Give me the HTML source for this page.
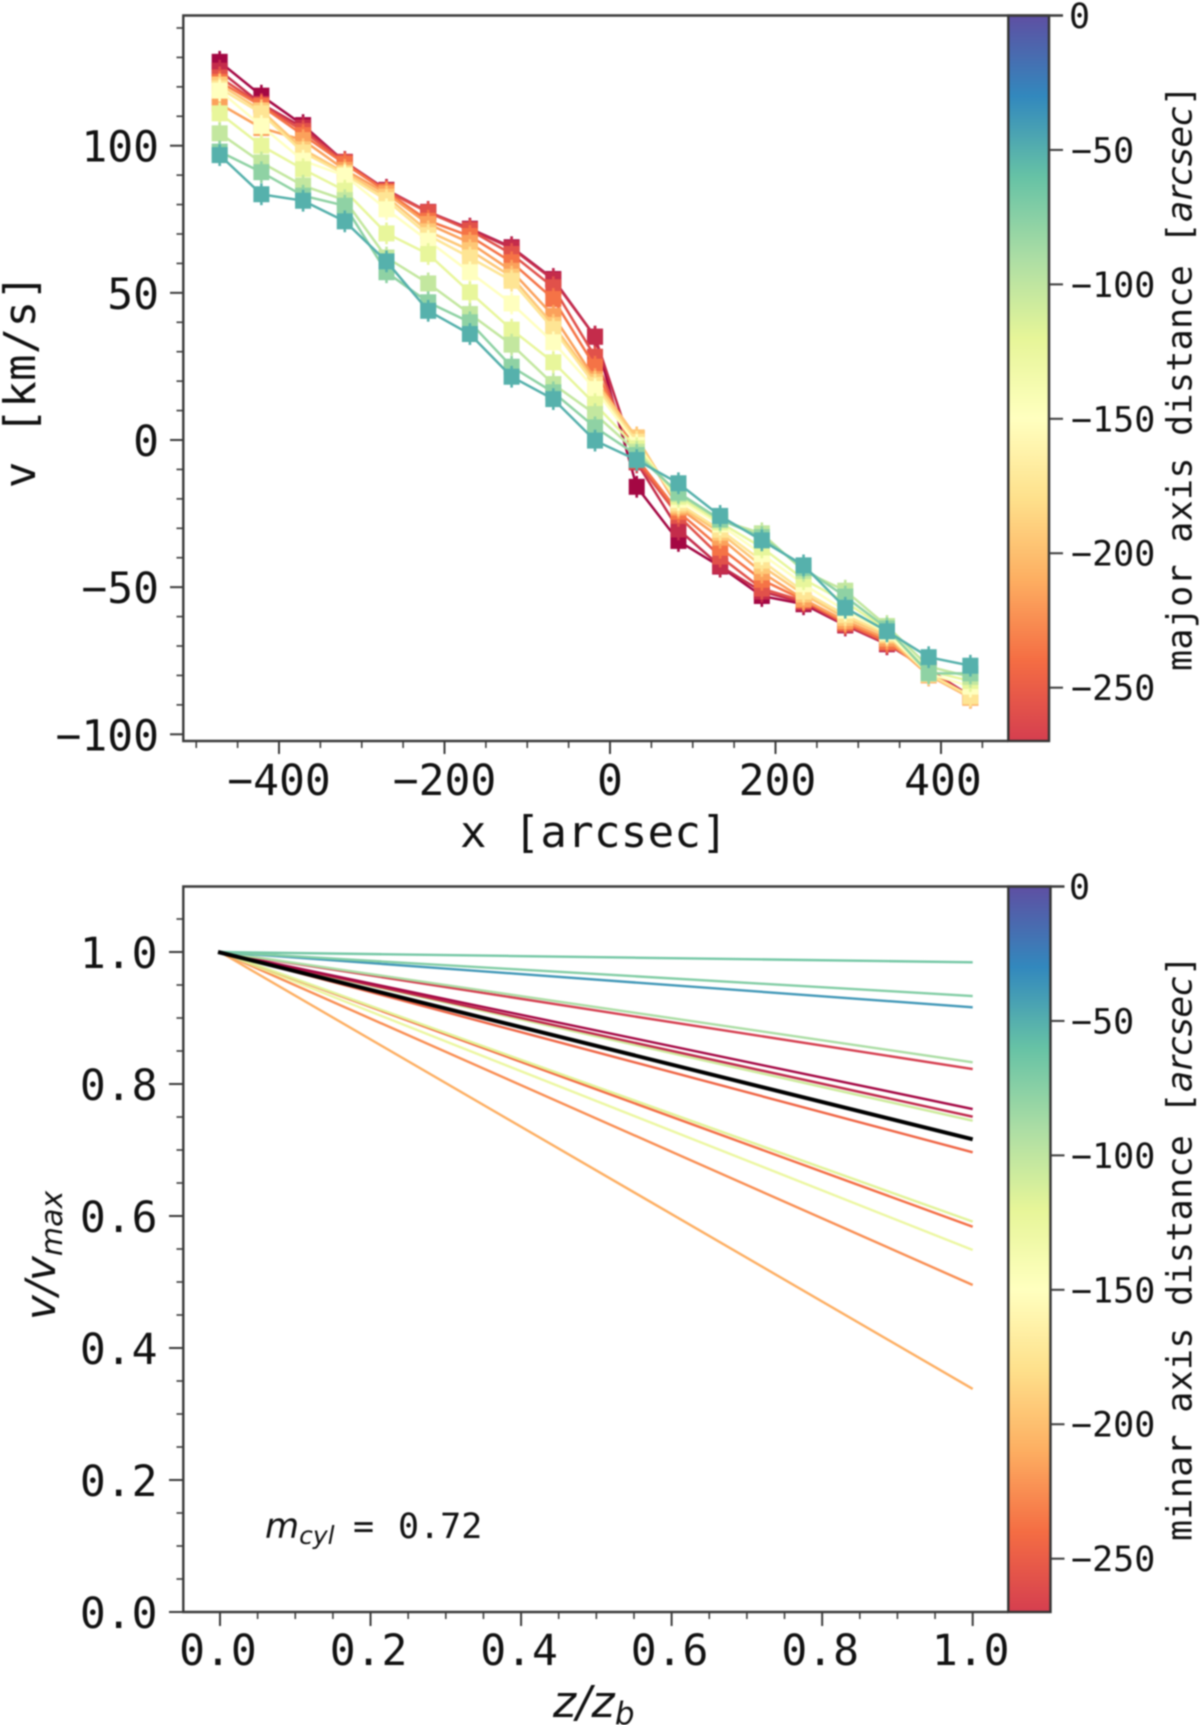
<!DOCTYPE html>
<html lang="en">
<head>
<meta charset="utf-8">
<title>Velocity profiles</title>
<style>
html,body{margin:0;padding:0;background:#fff;width:1200px;height:1725px;overflow:hidden}
svg{display:block;filter:blur(.8px)}
text{fill:#111;font-family:"DejaVu Sans Mono","Liberation Mono",monospace}
.tick{font-size:43px}
.cbt{font-size:35px}
.lab{font-size:44px;letter-spacing:.3px}
.cbl{font-size:35px;letter-spacing:.3px}
.it{font-family:"DejaVu Sans","Liberation Sans",sans-serif;font-style:italic}
</style>
</head>
<body>
<svg id="fig" xmlns="http://www.w3.org/2000/svg" width="1200" height="1725" viewBox="0 0 1200 1725">
  <defs>
    <linearGradient id="cbGrad" x1="0" y1="0" x2="0" y2="1"></linearGradient>
  </defs>
  <g id="top-marks"></g>
  <g id="bottom-marks"></g>
  <g id="axes"></g>

  <text class="lab" x="594" y="847" text-anchor="middle">x [arcsec]</text>
  <text class="lab" transform="translate(35 381) rotate(-90)" text-anchor="middle">v [km/s]</text>
  <text class="cbl" transform="translate(1191.5 671) rotate(-90)">major axis distance [<tspan class="it">arcsec</tspan>]</text>

  <text class="lab it" x="553" y="1717" font-size="44">z/z<tspan font-size="31" dy="7">b</tspan></text>
  <text class="it" transform="translate(55 1320) rotate(-90)" font-size="42">v/v<tspan font-size="30" dy="7">max</tspan></text>
  <text class="cbl" transform="translate(1191.5 1541) rotate(-90)">minar axis distance [<tspan class="it">arcsec</tspan>]</text>

  <g>
    <text class="it" x="265" y="1538" font-size="35">m<tspan font-size="25" dy="6">cyl</tspan></text>
    <text class="cbt" x="353" y="1538">=</text>
    <text class="cbt" x="398" y="1538">0.72</text>
  </g>
</svg>

<script>
// ---- top chart data ----
const topX = [-471.7,-421.3,-370.9,-320.5,-270.1,-219.7,-169.3,-118.9,-68.5,-18.1,32.3,82.7,133.1,183.5,233.9,284.3,334.7,385.1,435.5];
const topDistances = [-297,-279,-258,-237,-216,-195,-175,-150,-122,-102,-78,-51];
const vDark = [128.5,117,107,94.5,85,77.5,71.8,65.5,54.7,35.1,-15.9,-34.3,-43,-53,-55.8,-63,-69.4,-78,-87];
const vCrimson = [125.5,114.2,106.2,94.5,84.8,77.5,71.6,65.2,54.4,35.1,-7.6,-30.4,-42.8,-51.5,-55.3,-62.8,-69.2,-78,-87];
const vRed = [123.2,113.9,105,94.3,84.6,77.3,71.3,63.2,51.9,28.3,-7.3,-25.8,-39.6,-50.5,-54.7,-62.5,-69,-78.5,-87.4];
const vOrangeRed = [121.7,113.5,103.6,93.8,84.4,74.5,69.3,60.4,47.9,24.9,-6.2,-24.4,-36.6,-47.5,-54.4,-62,-68.5,-79,-87.5];
const vOrange = [114.2,106,101.9,91.8,83.8,73.4,67,57.5,42.2,20.7,0.6,-23,-33.2,-45,-54.1,-61.5,-67.5,-80,-87.6];
const vLightOrange = [120.8,112,98.8,90.8,82.7,70.9,64.5,55.5,39.1,19.8,0.9,-22.3,-31.5,-42.8,-52.5,-60.5,-66.5,-79.8,-87.4];
const vGold = [119.5,111,97.7,90.3,81.5,69.6,62,54.1,37.7,18.7,-0.6,-21.5,-30.5,-41,-51.5,-59.5,-66,-79.5,-87];
const vPale = [118.7,106.7,94.9,89.8,78.4,67.7,57,46.4,33.2,17.3,-1.7,-20.4,-28.7,-38.8,-49,-58,-65.5,-79.3,-83.8];
const vYellowGreen = [111,100,92,84.7,70.2,63.2,50.2,37.5,26.4,12.2,-2.8,-19.3,-28,-36.5,-47.3,-55,-64.5,-78.5,-81.9];
const vLightGreen = [104.2,94.3,86.4,81.5,62,53.2,42.8,32.4,19,8.8,-4,-18.4,-27.3,-31.7,-44.5,-51.2,-63.2,-77,-80.5];
const vGreen = [98,91,83,79.6,57,46.8,40,24.9,16.2,4.3,-5.1,-17.9,-27,-33,-43.5,-53.2,-64,-79.3,-79.3];
const vTeal = [96.8,83.5,81.3,74.3,60.7,43.9,36,21.5,13.9,-0.2,-6.8,-14.7,-25.8,-34.1,-42.6,-57,-65,-73.8,-76.7];
const topSeries = [vDark,vCrimson,vRed,vOrangeRed,vOrange,vLightOrange,vGold,vPale,vYellowGreen,vLightGreen,vGreen,vTeal];
const vError = 3.7;

// ---- bottom chart data ----
const zNorm = [0,1];
const bottomDistances = [-210,-225,-127,-240,-118,-245,-108,-282,-297,-270,-90,-38,-72,-66];
const bottomEnds = [0.338,0.4955,0.5485,0.5838,0.5914,0.6965,0.7444,0.7505,0.7621,0.8227,0.8329,0.9162,0.9333,0.9844];
const meanEnd = 0.7162;

// ---- tick labels ----
const topXMajor = [-400,-200,0,200,400];
const topXMinor = [-500,-450,-350,-300,-250,-150,-100,-50,50,100,150,250,300,350,450];
const topYMajor = [100,50,0,-50,-100];
const topYMinor = [140,130,120,110,90,80,70,60,40,30,20,10,-10,-20,-30,-40,-60,-70,-80,-90];
const bottomMajor = [0,0.2,0.4,0.6,0.8,1];
const bottomXMinor = [0.05,0.1,0.15,0.25,0.3,0.35,0.45,0.5,0.55,0.65,0.7,0.75,0.85,0.9,0.95];
const bottomYMinor = [1.05,0.95,0.9,0.85,0.75,0.7,0.65,0.55,0.5,0.45,0.35,0.3,0.25,0.15,0.1,0.05];
const colorbarTicks = [0,-50,-100,-150,-200,-250];
const colorbarMin = -270;

const NS = 'http://www.w3.org/2000/svg';
const spectralStops = ['#9e0142','#d53e4f','#f46d43','#fdae61','#fee08b','#ffffbf','#e6f598','#abdda4','#66c2a5','#3288bd','#5e4fa2'];
function hex(c){return [1,3,5].map(function(i){return parseInt(c.substr(i,2),16);});}
function spectral(d){
  var t=Math.max(0,Math.min(1,1+d/300))*10;
  var i=Math.min(9,Math.floor(t)),f=t-i;
  var a=hex(spectralStops[i]),b=hex(spectralStops[i+1]);
  return 'rgb('+a.map(function(v,k){return Math.round(v+(b[k]-v)*f);}).join(',')+')';
}
function make(parent,tag,attrs,txt){
  var e=document.createElementNS(NS,tag);
  for(var k in attrs){e.setAttribute(k,attrs[k]);}
  if(txt!==undefined){e.textContent=txt;}
  parent.appendChild(e);
  return e;
}
function fmtSigned(v){return (v<0?'\u2212':'')+Math.abs(v);}

// axis functions
const topXS = function(v){return 610+v*0.8275;};
const topYS = function(v){return 440-v*2.943;};
const botXS = function(v){return 220+v*752.7;};
const botYS = function(v){return 1612-v*660;};
const cb1 = function(v){return 15.5-v*2.6887;};
const cb2 = function(v){return 886.5-v*2.6887;};

// gradient
const grad=document.getElementById('cbGrad');
for(let d=0;d>=colorbarMin;d-=10){
  make(grad,'stop',{offset:(d/colorbarMin),'stop-color':spectral(d)});
}

// top series
const topG=document.getElementById('top-marks');
topSeries.forEach(function(vals,s){
  const col=spectral(topDistances[s]);
  const g=make(topG,'g',{});
  
  
  const pts=vals.map(function(v,i){return topXS(topX[i]).toFixed(1)+','+topYS(v).toFixed(1);}).join(' ');
  const line=make(g,'polyline',{points:pts,fill:'none',stroke:col,'stroke-width':2.5});
  
  
  vals.forEach(function(v,i){
    const cx=topXS(topX[i]);
    const err=make(g,'line',{x1:cx,x2:cx,y1:topYS(v+vError),y2:topYS(v-vError),stroke:col,'stroke-width':2.6});
    
    
    const pt=make(g,'rect',{x:cx-8,y:topYS(v)-8,width:16,height:16,fill:col});
    
    
  });
});

// bottom series
const botG=document.getElementById('bottom-marks');
bottomEnds.forEach(function(end,s){
  const ln=make(botG,'line',{x1:botXS(zNorm[0]),y1:botYS(1),x2:botXS(zNorm[1]),y2:botYS(end),stroke:spectral(bottomDistances[s]),'stroke-width':2.4});
  
  
});
const meanLine=make(botG,'line',{x1:botXS(zNorm[0])-2,y1:botYS(1),x2:botXS(zNorm[1]),y2:botYS(meanEnd),stroke:'#000','stroke-width':4});



// axes
const ax=document.getElementById('axes');
const AX='#3a3a3a';
function tickLine(x1,y1,x2,y2,w){
  const t=make(ax,'line',{x1:x1,y1:y1,x2:x2,y2:y2,stroke:AX,'stroke-width':w});
  
  
}
function panel(L,T,R,B,cbR,cbScale,name){
  const cb=make(ax,'rect',{x:L+825,y:T,width:cbR-(L+825),height:B-T,fill:'url(#cbGrad)',stroke:'#333','stroke-width':2.4});
  
  
  const sp=make(ax,'path',{d:'M'+(L+825)+' '+B+'H'+L+'V'+T+'H'+(cbR+14),fill:'none',stroke:AX,'stroke-width':2.4});
  
  
  colorbarTicks.forEach(function(v){
    const y=cbScale(v);
    if(v!==0){tickLine(cbR,y,cbR+14,y,2);}
    const t=make(ax,'text',{class:'cbt',x:v===0?1069:1071,y:y+12.5},fmtSigned(v));
    
    
  });
}
panel(183.3,15.5,1008,741,1049,cb1,'top');
panel(183.3,886.5,1008,1612,1050.5,cb2,'bottom');

topXMajor.forEach(function(v){
  const x=topXS(v);
  tickLine(x,741,x,754,2);
  const t=make(ax,'text',{class:'tick',x:v>0?x+2:x,y:795,'text-anchor':'middle'},fmtSigned(v));
  
  
});
topXMinor.forEach(function(v){var x=topXS(v);tickLine(x,741,x,748,1.6);});
topYMajor.forEach(function(v){
  const y=topYS(v);
  tickLine(170,y,183,y,2);
  const t=make(ax,'text',{class:'tick',x:159,y:y+16,'text-anchor':'end'},fmtSigned(v));
  
  
});
topYMinor.forEach(function(v){var y=topYS(v);tickLine(176.5,y,183,y,1.6);});

bottomMajor.forEach(function(v){
  const x=botXS(v),y=botYS(v);
  tickLine(x,1612,x,1626,2);
  tickLine(169,y,183,y,2);
  const tx=make(ax,'text',{class:'tick',x:x-2,y:1665,'text-anchor':'middle'},v.toFixed(1));
  
  
  const ty=make(ax,'text',{class:'tick',x:157.5,y:y+16,'text-anchor':'end'},v.toFixed(1));
  
  
});
bottomXMinor.forEach(function(v){var x=botXS(v);tickLine(x,1612,x,1619,1.6);});
bottomYMinor.forEach(function(v){var y=botYS(v);tickLine(176.5,y,183,y,1.6);});
</script>
</body>
</html>
